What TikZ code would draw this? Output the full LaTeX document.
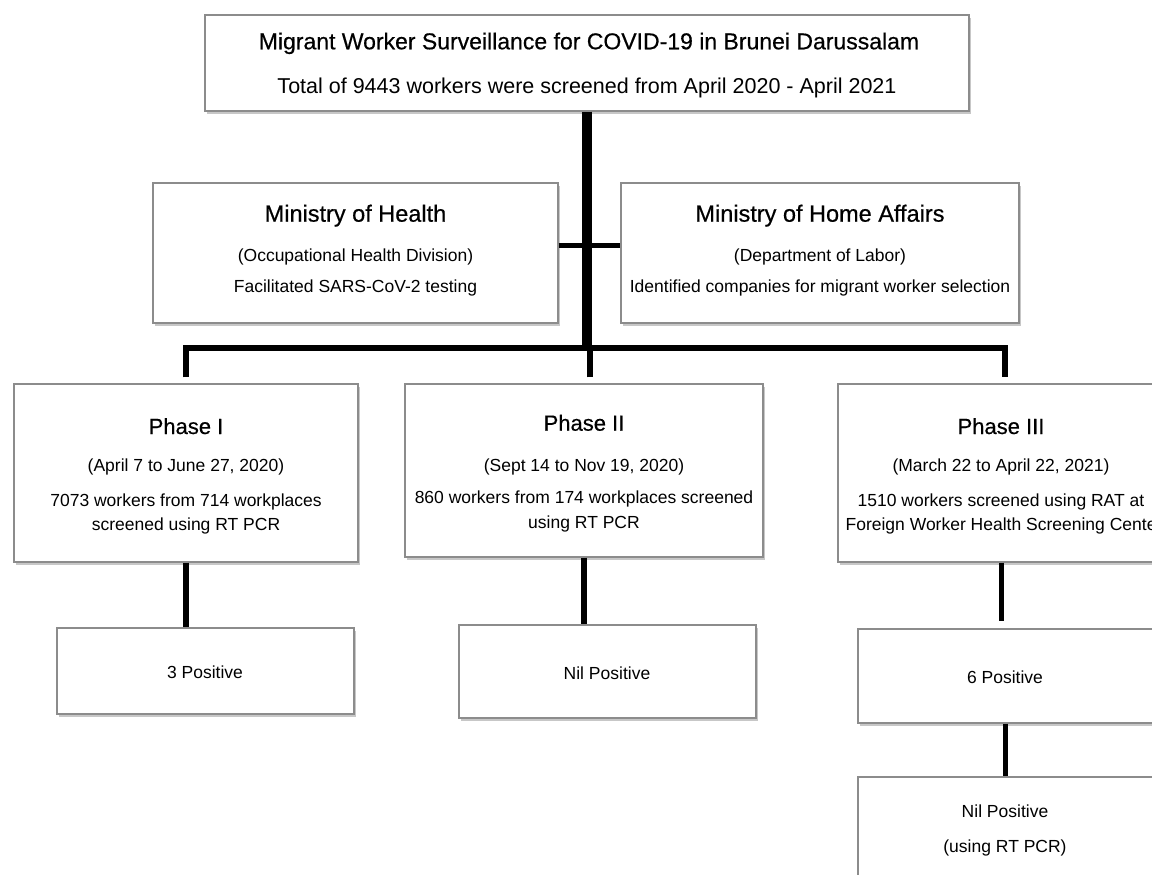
\documentclass[tikz,border=0pt]{standalone}
\usepackage{fontspec}
\setmainfont{Liberation Sans}
\newfontfamily\headfont{Liberation Sans}[FakeBold=0.5]
\usetikzlibrary{shadows}
\definecolor{boxgray}{RGB}{140,140,140}
\tikzset{
  box/.style={draw=boxgray, line width=1.2pt, fill=white, rectangle, inner sep=0pt,
    drop shadow={shadow xshift=1.5pt, shadow yshift=-3pt, fill=black, opacity=0.22}},
  txt/.style={anchor=base, inner sep=0pt, font=\fontsize{17.5}{21}\selectfont},
  phead/.style={anchor=base, inner sep=0pt, font=\headfont\fontsize{22}{26}\selectfont},
  mhead/.style={anchor=base, inner sep=0pt, font=\headfont\fontsize{23.5}{28}\selectfont},
  conn/.style={line width=5.5pt, black},
  trunk/.style={line width=10pt, black},
}
\begin{document}
\begin{tikzpicture}[x=1pt, y=-1pt]
\useasboundingbox (0,0) rectangle (1152,875);
\clip (0,0) rectangle (1152,875);
\fill[white] (0,0) rectangle (1152,875);

% boxes
\node[box, minimum width=764pt, minimum height=96pt] (top) at (587,63) {};
\node[box, minimum width=405pt, minimum height=140pt] (mh) at (355.5,253) {};
\node[box, minimum width=398pt, minimum height=140pt] (mha) at (820,253) {};
\node[box, minimum width=344pt, minimum height=178pt] (p1) at (186,473) {};
\node[box, minimum width=358pt, minimum height=173pt] (p2) at (584,470.5) {};
\node[box, minimum width=334pt, minimum height=178pt] (p3) at (1005,473) {};
\node[box, minimum width=297pt, minimum height=86pt] (r1) at (205.5,671) {};
\node[box, minimum width=297pt, minimum height=93pt] (r2) at (607.5,671.5) {};
\node[box, minimum width=297pt, minimum height=94pt] (r3) at (1006.5,676) {};
\node[box, minimum width=297pt, minimum height=113pt] (r4) at (1006.5,833.5) {};

% connector helpers
\coordinate (bar) at (587,348);
\coordinate (p2in) at ([xshift=6pt,yshift=6pt]p2.north);
\coordinate (p1in) at ([yshift=6pt]p1.north);
\coordinate (p3in) at ([yshift=6pt]p3.north);
\coordinate (p3out) at ([xshift=-3.5pt]p3.south);
\coordinate (r3in) at ([yshift=7pt]r3.north);

% connectors
\draw[trunk] (top.south) -- (top.south |- 0,351);
\draw[conn] ([yshift=7.5pt]mh.east) -- ([yshift=7.5pt]mha.west);
\draw[conn, line join=miter] (p1in) -- (p1in |- bar) -- (p3in |- bar) -- (p3in);
\draw[conn] (p2in) -- (p2in |- bar);
\draw[conn] (p1.south) -- (p1.south |- r1.north);
\draw[conn] (p2.south) -- (p2.south |- r2.north);
\draw[conn] (p3out) -- (p3out |- r3in);
\draw[conn] ([xshift=-1pt]r3.south) -- ([xshift=-1pt]r3.south |- r4.north);

% texts
\node[anchor=base, inner sep=0pt, font=\headfont\fontsize{23}{28}\selectfont] (t1) at (589,49.3) {Migrant Worker Surveillance for COVID-19 in Brunei Darussalam};
\node[anchor=base, inner sep=0pt, font=\fontsize{21.5}{26}\selectfont] (t2) at (587,93.3) {Total of 9443 workers were screened from April 2020 - April 2021};

\node[mhead] (mh1) at (355.5,221.7) {Ministry of Health};
\node[txt] (mh2) at (355.5,261.5) {(Occupational Health Division)};
\node[txt] (mh3) at (355.5,292.7) {Facilitated SARS-CoV-2 testing};

\node[mhead] (mha1) at (820,221.7) {Ministry of Home Affairs};
\node[txt] (mha2) at (820,261.5) {(Department of Labor)};
\node[txt] (mha3) at (820,292.7) {Identified companies for migrant worker selection};

\node[phead] (p1a) at (186,434) {Phase I};
\node[txt] (p1b) at (186,471.7) {(April 7 to June 27, 2020)};
\node[txt] (p1c) at (186,506.7) {7073 workers from 714 workplaces};
\node[txt] (p1d) at (186,530.7) {screened using RT PCR};

\node[phead] (p2a) at (584,430.7) {Phase II};
\node[txt] (p2b) at (584,471) {(Sept 14 to Nov 19, 2020)};
\node[txt] (p2c) at (584,503) {860 workers from 174 workplaces screened};
\node[txt] (p2d) at (584,528) {using RT PCR};

\node[phead] (p3a) at (1001,434) {Phase III};
\node[txt] (p3b) at (1001,471.7) {(March 22 to April 22, 2021)};
\node[txt] (p3c) at (1001,506.7) {1510 workers screened using RAT at};
\node[txt] (p3d) at (1004,530.7) {Foreign Worker Health Screening Center};

\node[txt] (r1a) at (205,678) {3 Positive};
\node[txt] (r2a) at (607,679) {Nil Positive};
\node[txt] (r3a) at (1005,683) {6 Positive};
\node[txt] (r4a) at (1005,817) {Nil Positive};
\node[txt] (r4b) at (1005,852) {(using RT PCR)};
\end{tikzpicture}
\end{document}
